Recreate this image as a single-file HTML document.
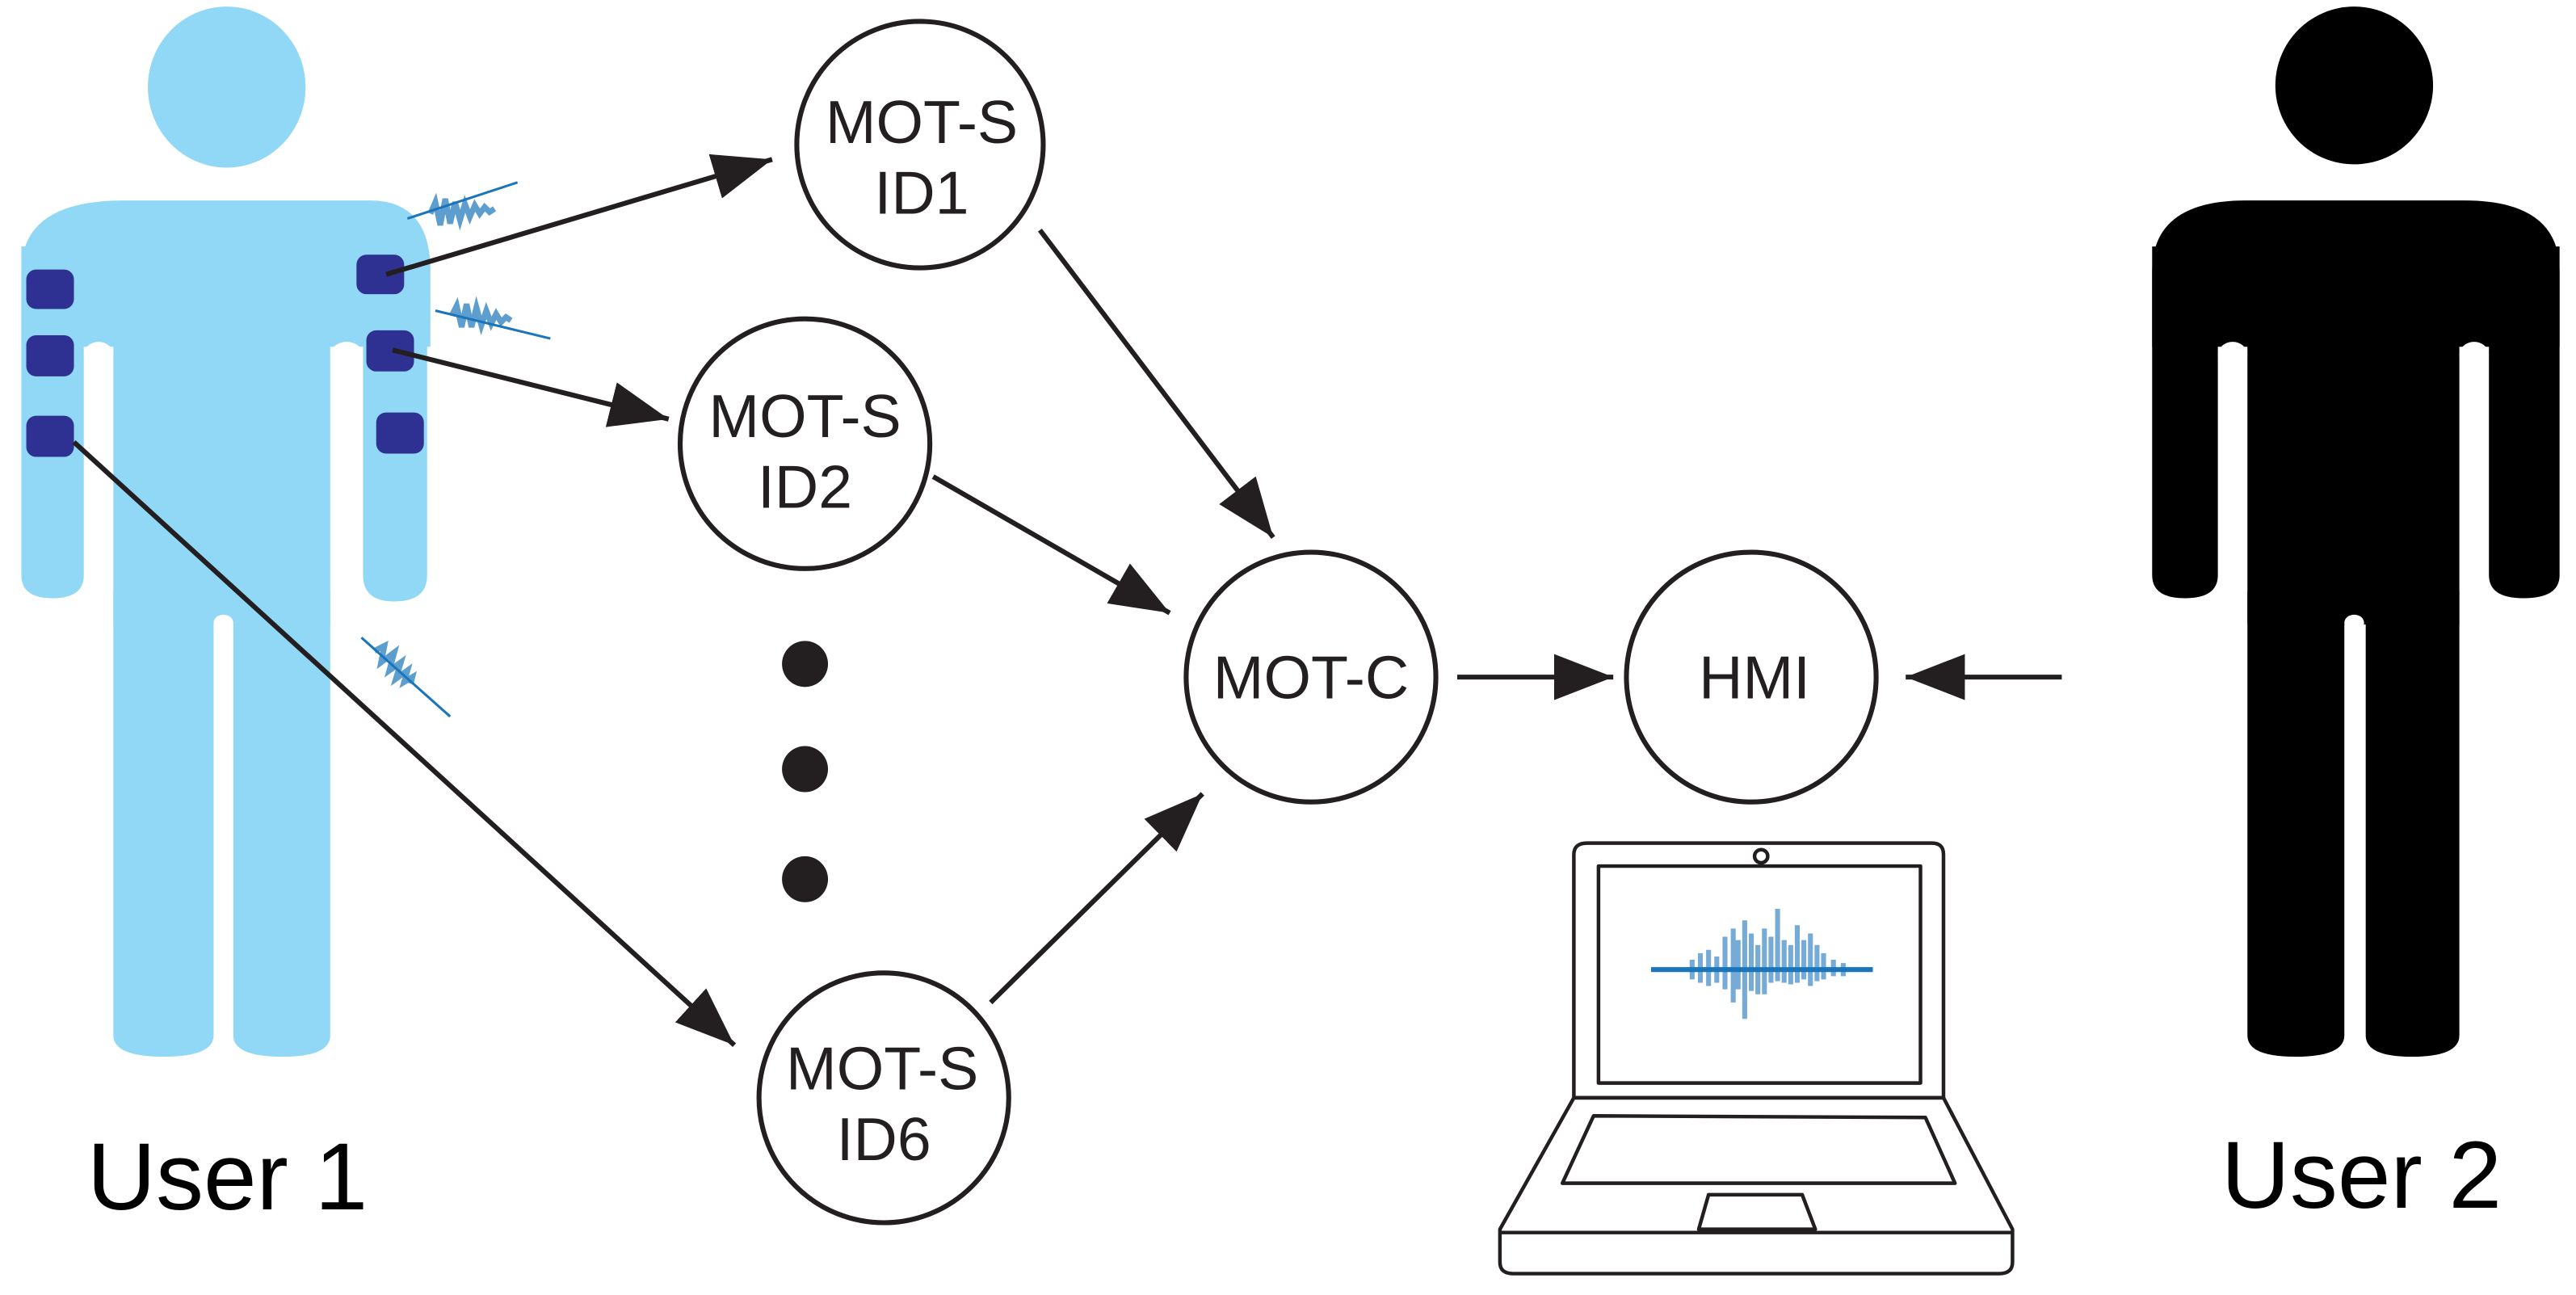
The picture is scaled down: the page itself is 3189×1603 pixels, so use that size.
<!DOCTYPE html>
<html><head><meta charset="utf-8"><style>html,body{margin:0;padding:0;background:#fff}svg{display:block}</style></head>
<body>
<svg width="3189" height="1603" viewBox="0 0 1568 788" preserveAspectRatio="none" xmlns="http://www.w3.org/2000/svg">
<defs>
<marker id="ah" viewBox="0 0 36 28" refX="36" refY="14" markerWidth="36" markerHeight="28" markerUnits="userSpaceOnUse" orient="auto"><path d="M0,0 L36,14 L0,28 z" fill="#231f20"/></marker>
</defs>
<!-- User 1 -->
<g fill="#91d8f6">
<ellipse cx="138" cy="53" rx="48" ry="49"/>
<path d="M13,165 Q13,122 75,122 L225,122 Q262,122 262,165 L262,211 L13,211 Z"/>
<path d="M13,150 L51,150 L51,350 Q51,364 32,364 Q13,364 13,350 Z"/>
<path d="M221,150 L260,150 L260,350 Q260,366 240,366 Q221,366 221,350 Z"/>
<rect x="69" y="150" width="132" height="230"/>
<path d="M69,360 L130,360 L130,630 Q130,643 100,643 Q69,643 69,630 Z"/>
<path d="M142,360 L201,360 L201,630 Q201,643 172,643 Q142,643 142,630 Z"/>
</g>
<g fill="#fff"><ellipse cx="60" cy="216" rx="9" ry="8"/><ellipse cx="211" cy="216" rx="10" ry="8"/><ellipse cx="136" cy="379" rx="6" ry="5"/></g>
<g fill="#2e3192">
<rect x="16" y="164" width="29" height="24" rx="6"/>
<rect x="16" y="204" width="29" height="25" rx="6"/>
<rect x="16" y="253" width="29" height="25" rx="6"/>
<rect x="217" y="155" width="29" height="24" rx="6"/>
<rect x="223" y="201" width="29" height="25" rx="6"/>
<rect x="229" y="251" width="29" height="25" rx="6"/>
</g>
<!-- signal glyphs -->
<g stroke="#1a75bb" fill="none">
<path d="M248,133 L315,111" stroke-width="1.5"/>
<path d="M262,130 l3,-7 l3,14 l3,-16 l3,15 l3,-13 l3,11 l3,-10 l3,8 l3,-7 l3,5 l3,-4 l3,3 l3,-2" stroke-width="3.5" opacity="0.7"/>
<path d="M265,189 L335,206" stroke-width="1.5"/>
<path d="M275,192 l3,-6 l3,13 l3,-14 l3,14 l3,-12 l3,11 l3,-9 l3,8 l3,-6 l3,5 l3,-3 l3,2" stroke-width="3.5" opacity="0.7"/>
<path d="M220,388 L274,436" stroke-width="1.5"/>
<path d="M228,396 l6,-3 l-2,10 l8,-6 l-3,11 l7,-5 l-3,10 l7,-5 l-2,7 l5,-3 l-1,4" stroke-width="3.5" opacity="0.7"/>
</g>
<text x="53" y="736" font-family="Liberation Sans, sans-serif" font-size="58" fill="#000">User 1</text>
<!-- User 2 -->
<g fill="#000">
<ellipse cx="1433" cy="52" rx="48" ry="48"/>
<path d="M1310,165 Q1310,122 1367,122 L1500,122 Q1558,122 1558,165 L1558,211 L1310,211 Z"/>
<path d="M1310,150 L1350,150 L1350,350 Q1350,364 1330,364 Q1310,364 1310,350 Z"/>
<path d="M1515,150 L1558,150 L1558,350 Q1558,364 1536,364 Q1515,364 1515,350 Z"/>
<rect x="1368" y="150" width="129" height="230"/>
<path d="M1368,360 L1427,360 L1427,630 Q1427,643 1397,643 Q1368,643 1368,630 Z"/>
<path d="M1440,360 L1497,360 L1497,630 Q1497,643 1468,643 Q1440,643 1440,630 Z"/>
</g>
<g fill="#fff"><ellipse cx="1359" cy="216" rx="9" ry="8"/><ellipse cx="1506" cy="216" rx="9" ry="8"/><ellipse cx="1433" cy="379" rx="6" ry="5"/></g>
<text x="1352" y="735" font-family="Liberation Sans, sans-serif" font-size="58" fill="#000">User 2</text>
<!-- nodes -->
<g fill="#fff" stroke="#231f20" stroke-width="3">
<circle cx="560" cy="88" r="75"/>
<circle cx="490" cy="270" r="76"/>
<circle cx="538" cy="668" r="76"/>
<circle cx="798" cy="412" r="76"/>
<circle cx="1066" cy="412" r="76"/>
</g>
<g font-family="Liberation Sans, sans-serif" font-size="37" fill="#231f20" text-anchor="middle">
<text x="561" y="87">MOT-S</text><text x="561" y="130">ID1</text>
<text x="490" y="266">MOT-S</text><text x="490" y="309">ID2</text>
<text x="537" y="663">MOT-S</text><text x="538" y="706">ID6</text>
<text x="798" y="425">MOT-C</text>
<text x="1068" y="425">HMI</text>
</g>
<g fill="#231f20"><circle cx="490" cy="404" r="14"/><circle cx="490" cy="468" r="14"/><circle cx="490" cy="535" r="14"/></g>
<!-- arrows -->
<g stroke="#231f20" stroke-width="3" fill="none" marker-end="url(#ah)">
<line x1="235" y1="167" x2="470" y2="97"/>
<line x1="239" y1="213" x2="407" y2="255"/>
<line x1="45" y1="269" x2="447" y2="636"/>
<line x1="633" y1="140" x2="775" y2="327"/>
<line x1="568" y1="290" x2="712" y2="373"/>
<line x1="603" y1="610" x2="732" y2="483"/>
<line x1="887" y1="412" x2="982" y2="412"/>
<line x1="1255" y1="412" x2="1160" y2="412"/>
</g>
<!-- laptop -->
<g fill="none" stroke="#231f20" stroke-width="2.2" stroke-linejoin="round">
<path d="M958,668 L958,520 Q958,513 966,513 L1176,513 Q1183,513 1183,520 L1183,668 Z"/>
<rect x="973" y="527" width="196" height="132"/>
<circle cx="1072" cy="521" r="4"/>
<path d="M958,668 L1183,668 L1225,748 L1225,768 Q1225,775 1217,775 L921,775 Q913,775 913,768 L913,748 Z"/>
<line x1="913" y1="750" x2="1225" y2="750"/>
<path d="M970,679 L1172,680 L1190,720 L951,720 Z"/>
<path d="M1040,727 L1097,727 L1105,748 L1034,748 Z"/>
</g>
<g stroke="#1a75bb" stroke-width="3">
<line x1="1005" y1="590" x2="1140" y2="590"/>
<path d="M1030,584 v12 M1035,580 v18 M1040,578 v22 M1045,582 v16 M1050,570 v32 M1055,565 v45 M1058,572 v30 M1062,560 v60 M1066,568 v35 M1070,575 v30 M1074,565 v40 M1078,570 v28 M1082,553 v44 M1086,572 v26 M1090,575 v24 M1094,563 v35 M1098,572 v24 M1102,568 v32 M1106,575 v22 M1110,580 v16 M1116,584 v10 M1122,586 v8" opacity="0.6"/>
</g>
</svg>
</body></html>
